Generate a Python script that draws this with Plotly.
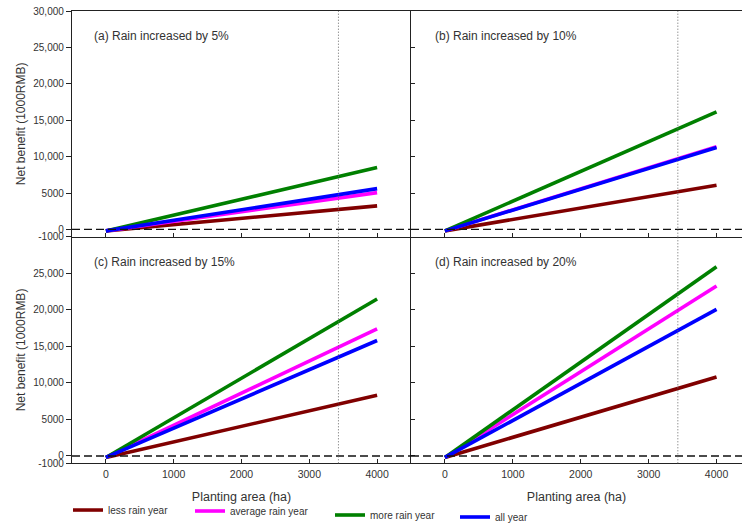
import plotly.graph_objects as go

# ---- data ----
area = [0, 4000]
panel_titles = ["(a) Rain increased by 5%", "(b) Rain increased by 10%",
                "(c) Rain increased by 15%", "(d) Rain increased by 20%"]
series_names = ["less rain year", "average rain year", "more rain year", "all year"]
series_colors = ["#800000", "#ff00ff", "#008000", "#0000ff"]
start_value = -200
# net benefit at 4000 ha for each panel: less, average, more, all
end_values = {
    "a": [3230, 5050, 8500, 5600],
    "b": [6070, 11370, 16140, 11240],
    "c": [8310, 17400, 21470, 15800],
    "d": [10820, 23250, 25890, 20050],
}
threshold_area = 3430
y_tickvals_top = [-1000, 0, 5000, 10000, 15000, 20000, 25000, 30000]
y_ticktext_top = ["-1000", "0", "5000", "10,000", "15,000", "20,000", "25,000", "30,000"]
y_tickvals_bot = y_tickvals_top[:-1]
y_ticktext_bot = y_ticktext_top[:-1]
x_tickvals = [0, 1000, 2000, 3000, 4000]

W, H = 742, 524
FONT = "Liberation Sans, Arial, sans-serif"
TXT = "#333333"
AX = "#222222"

def px_x(p):
    return p / W

def px_y(p):
    return 1 - p / H

x_dom_left = [px_x(72), px_x(411)]
x_dom_right = [px_x(411), 1.0]
y_dom_top = [px_y(236.7), px_y(11)]
y_dom_bot = [px_y(463.3), px_y(236.7)]

fig = go.Figure()

panels = [("a", 1, x_dom_left, y_dom_top), ("b", 2, x_dom_right, y_dom_top),
          ("c", 3, x_dom_left, y_dom_bot), ("d", 4, x_dom_right, y_dom_bot)]
legend_ids = ["legend", "legend2", "legend3", "legend4"]

for key, idx, xd, yd in panels:
    xa = "x" if idx == 1 else f"x{idx}"
    ya = "y" if idx == 1 else f"y{idx}"
    for s, (name, col) in enumerate(zip(series_names, series_colors)):
        fig.add_trace(go.Scatter(
            x=area, y=[start_value, end_values[key][s]], mode="lines",
            name=name, line=dict(color=col, width=3.6),
            xaxis=xa, yaxis=ya, showlegend=(idx == 3),
            legend=legend_ids[s]))
    is_left = idx in (1, 3)
    is_top = idx in (1, 2)
    xname = "xaxis" if idx == 1 else f"xaxis{idx}"
    yname = "yaxis" if idx == 1 else f"yaxis{idx}"
    fig.layout[xname] = dict(
        domain=xd, range=[-500, 4500] if is_left else [-500, 4375],
        anchor=ya, showline=True, linecolor=AX, linewidth=1.3,
        mirror=True if is_top else False,
        ticks="inside", ticklen=4, tickcolor=AX, tickwidth=1.2,
        tickvals=x_tickvals, showticklabels=not is_top,
        ticklabelstandoff=1,
        tickfont=dict(size=10.5, color=TXT, family=FONT),
        showgrid=False, zeroline=False, automargin=False,
        title=dict(text="" if is_top else "Planting area (ha)",
                   font=dict(size=12.5, color=TXT, family=FONT), standoff=13),
    )
    fig.layout[yname] = dict(
        domain=yd, range=[-1000, 30000], anchor=xa,
        showline=True, linecolor=AX, linewidth=1.3,
        ticks="outside" if is_left else "inside", ticklen=5 if is_left else 4,
        tickcolor=AX, tickwidth=1.2,
        tickvals=y_tickvals_top if is_top else y_tickvals_bot,
        ticktext=y_ticktext_top if is_top else y_ticktext_bot,
        showticklabels=is_left,
        tickfont=dict(size=10, color=TXT, family=FONT),
        showgrid=False, zeroline=False, automargin=False,
        title=dict(text="Net benefit (1000RMB)" if is_left else "",
                   font=dict(size=12, color=TXT, family=FONT), standoff=5),
    )
    xr = "x" if idx == 1 else f"x{idx}"
    yr = "y" if idx == 1 else f"y{idx}"
    # zero reference line
    fig.add_shape(type="line", xref=f"{xr} domain", yref=yr, x0=0, x1=1, y0=0, y1=0,
                  line=dict(color="#111111", width=1.4, dash="8px,4px"), layer="above")
    # threshold area line
    fig.add_shape(type="line", xref=xr, yref=f"{yr} domain", x0=threshold_area,
                  x1=threshold_area, y0=0, y1=1,
                  line=dict(color="#666666", width=1, dash="1px,2px"), layer="above")
    fig.add_annotation(text=panel_titles[idx - 1], xref=f"{xr} domain", yref=f"{yr} domain",
                       x=(92 - 72) / 339 if is_left else (433 - 411) / 331, y=0.889,
                       xanchor="left", yanchor="middle", showarrow=False,
                       font=dict(size=12, color=TXT, family=FONT))

legend_pos = [(68, 510), (190, 511), (330, 515), (455, 517)]
leg_layout = {}
for lid, (lx, ly) in zip(legend_ids, legend_pos):
    leg_layout[lid] = dict(x=px_x(lx), y=px_y(ly), xanchor="left", yanchor="middle",
                           bgcolor="rgba(0,0,0,0)", borderwidth=0, itemwidth=30,
                           font=dict(size=10, color=TXT, family=FONT),
                           tracegroupgap=0)
fig.update_layout(**leg_layout)

fig.update_layout(
    width=W, height=H, margin=dict(l=0, r=0, t=0, b=0, autoexpand=False),
    paper_bgcolor="white", plot_bgcolor="white",
    font=dict(family=FONT, color=TXT),
)

fig.write_html("out.html")
